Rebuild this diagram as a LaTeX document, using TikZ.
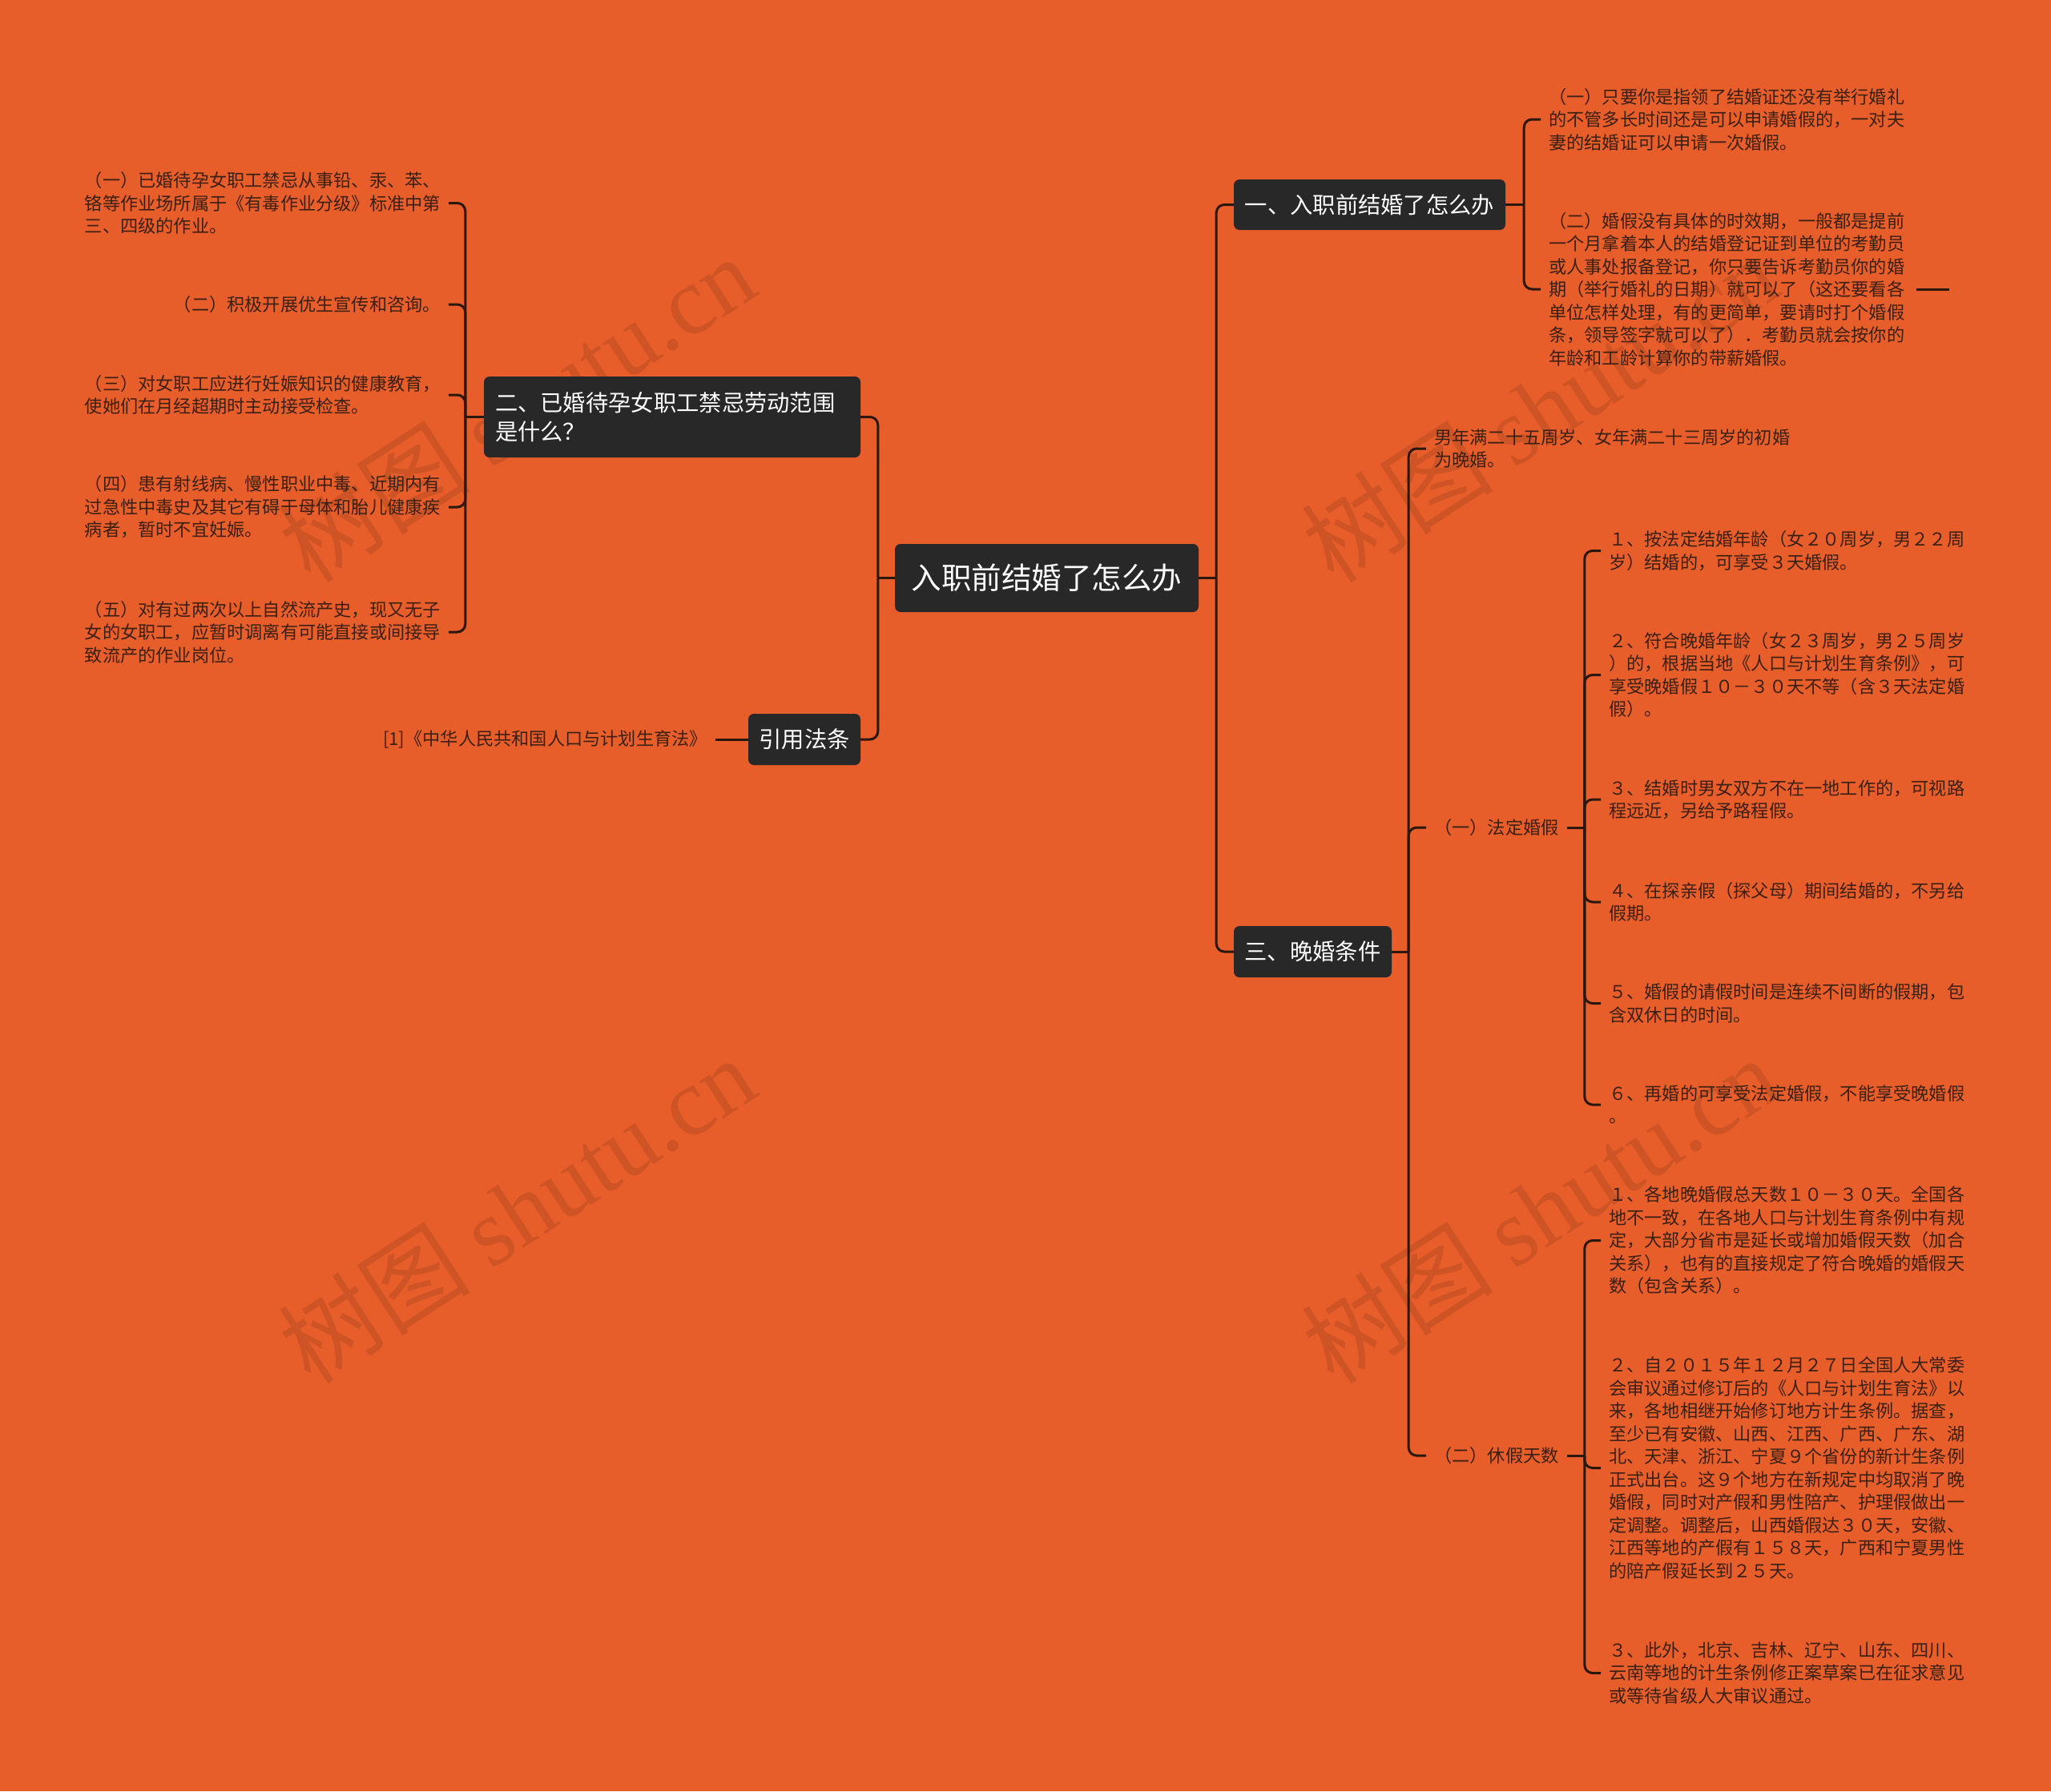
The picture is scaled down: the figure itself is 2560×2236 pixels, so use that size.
\documentclass[tikz,border=0pt]{standalone}
\usepackage{fontspec}
\setmainfont{Noto Sans CJK SC}
\newfontfamily\cjk{Noto Sans CJK SC}
\newfontfamily\wmserif{Liberation Serif}
\definecolor{bgc}{HTML}{E85E2A}
\definecolor{boxc}{HTML}{282828}
\definecolor{leafc}{HTML}{3A2014}
\definecolor{linec}{HTML}{2A170D}
\tikzset{
  box/.style={fill=boxc, rounded corners=7pt, text=white, inner sep=0pt,
    font=\fontsize{28.3}{36}\selectfont},
  leaf/.style={text=leafc, inner xsep=10pt, inner ysep=0pt, align=left,
    font=\fontsize{22.2}{28.5}\selectfont},
  conn/.style={draw=linec, line width=3pt},
  elbow/.style={conn, rounded corners=10pt},
  wm/.style={text=black, text opacity=0.11, inner sep=0pt, rotate=33,
    font=\fontsize{120}{120}\selectfont}
}
\begin{document}
\begin{tikzpicture}[x=1pt, y=-1pt]
\useasboundingbox (0,0) rectangle (2560,2236);
\fill[bgc] (0,0) rectangle (2560,2236);

% watermarks
\node[wm] (wm1) at (645,510) {{\cjk 树图} {\wmserif shutu.cn}};
\node[wm] (wm2) at (645,1510) {{\cjk 树图} {\wmserif shutu.cn}};
\node[wm] (wm3) at (1922,510) {{\cjk 树图} {\wmserif shutu.cn}};
\node[wm] (wm4) at (1922,1510) {{\cjk 树图} {\wmserif shutu.cn}};

% main boxes
\node[box, minimum width=379pt, minimum height=85pt, font=\fontsize{37.5}{44}\selectfont] (root) at (1306.5,721.5) {入职前结婚了怎么办};
\node[box, minimum width=339pt, minimum height=63pt] (n1) at (1709.5,255.5) {一、入职前结婚了怎么办};
\node[box, text width=442pt, inner xsep=14pt, minimum height=101pt, align=left] (n2) at (839,520.5) {二、已婚待孕女职工禁忌劳动范围\\是什么？};
\node[box, minimum width=140pt, minimum height=64pt] (n4) at (1004,923) {引用法条};
\node[box, minimum width=197pt, minimum height=64pt] (n3) at (1638.5,1188) {三、晚婚条件};

% junctions
\coordinate (jR) at ([xshift=22pt]root.east);
\coordinate (jL) at ([xshift=-21pt]root.west);
\coordinate (j1) at ([xshift=23pt]n1.east);
\coordinate (j2) at ([xshift=-23pt]n2.west);
\coordinate (j3) at ([xshift=21pt]n3.east);

% leaves of n1
\node[leaf, anchor=west] (l1a) at (1923,149) {（一）只要你是指领了结婚证还没有举行婚礼\\的不管多长时间还是可以申请婚假的，一对夫\\妻的结婚证可以申请一次婚假。};
\node[leaf, anchor=west] (l1b) at (1923,361) {（二）婚假没有具体的时效期，一般都是提前\\一个月拿着本人的结婚登记证到单位的考勤员\\或人事处报备登记，你只要告诉考勤员你的婚\\期（举行婚礼的日期）就可以了（这还要看各\\单位怎样处理，有的更简单，要请时打个婚假\\条，领导签字就可以了）．考勤员就会按你的\\年龄和工龄计算你的带薪婚假。};
\coordinate (stray) at ([xshift=46pt]l1b.east);

% leaves of n2
\node[leaf, anchor=east] (a1) at (560,253.5) {（一）已婚待孕女职工禁忌从事铅、汞、苯、\\铬等作业场所属于《有毒作业分级》标准中第\\三、四级的作业。};
\node[leaf, anchor=east] (a2) at (560,380) {（二）积极开展优生宣传和咨询。};
\node[leaf, anchor=east] (a3) at (560,493) {（三）对女职工应进行妊娠知识的健康教育，\\使她们在月经超期时主动接受检查。};
\node[leaf, anchor=east] (a4) at (560,633) {（四）患有射线病、慢性职业中毒、近期内有\\过急性中毒史及其它有碍于母体和胎儿健康疾\\病者，暂时不宜妊娠。};
\node[leaf, anchor=east] (a5) at (560,789) {（五）对有过两次以上自然流产史，现又无子\\女的女职工，应暂时调离有可能直接或间接导\\致流产的作业岗位。};

% leaf of n4
\node[leaf, anchor=east] (cite) at (893,923) {[1]《中华人民共和国人口与计划生育法》};

% leaves of n3
\node[leaf, anchor=west] (w0) at (1780,560) {男年满二十五周岁、女年满二十三周岁的初婚\\为晚婚。};
\node[leaf, anchor=west] (fd) at (1780,1033) {（一）法定婚假};
\node[leaf, anchor=west] (xj) at (1780,1817) {（二）休假天数};
\coordinate (j4) at ([xshift=22pt]fd.east);
\coordinate (j5) at ([xshift=22pt]xj.east);

% leaves of fd
\node[leaf, anchor=west] (f1) at (1998,687.5) {１、按法定结婚年龄（女２０周岁，男２２周\\岁）结婚的，可享受３天婚假。};
\node[leaf, anchor=west] (f2) at (1998,842.5) {２、符合晚婚年龄（女２３周岁，男２５周岁\\）的，根据当地《人口与计划生育条例》，可\\享受晚婚假１０－３０天不等（含３天法定婚\\假）。};
\node[leaf, anchor=west] (f3) at (1998,998) {３、结婚时男女双方不在一地工作的，可视路\\程远近，另给予路程假。};
\node[leaf, anchor=west] (f4) at (1998,1126) {４、在探亲假（探父母）期间结婚的，不另给\\假期。};
\node[leaf, anchor=west] (f5) at (1998,1252.5) {５、婚假的请假时间是连续不间断的假期，包\\含双休日的时间。};
\node[leaf, anchor=west] (f6) at (1998,1379) {６、再婚的可享受法定婚假，不能享受晚婚假\\。};

% leaves of xj
\node[leaf, anchor=west] (x1) at (1998,1548.5) {１、各地晚婚假总天数１０－３０天。全国各\\地不一致，在各地人口与计划生育条例中有规\\定，大部分省市是延长或增加婚假天数（加合\\关系），也有的直接规定了符合晚婚的婚假天\\数（包含关系）。};
\node[leaf, anchor=west] (x2) at (1998,1832.5) {２、自２０１５年１２月２７日全国人大常委\\会审议通过修订后的《人口与计划生育法》以\\来，各地相继开始修订地方计生条例。据查，\\至少已有安徽、山西、江西、广西、广东、湖\\北、天津、浙江、宁夏９个省份的新计生条例\\正式出台。这９个地方在新规定中均取消了晚\\婚假，同时对产假和男性陪产、护理假做出一\\定调整。调整后，山西婚假达３０天，安徽、\\江西等地的产假有１５８天，广西和宁夏男性\\的陪产假延长到２５天。};
\node[leaf, anchor=west] (x3) at (1998,2088.5) {３、此外，北京、吉林、辽宁、山东、四川、\\云南等地的计生条例修正案草案已在征求意见\\或等待省级人大审议通过。};

% connectors
\draw[conn] (root.east) -- (jR);
\draw[elbow] (jR) |- (n1.west);
\draw[elbow] (jR) |- (n3.west);
\draw[conn] (root.west) -- (jL);
\draw[elbow] (jL) |- (n2.east);
\draw[elbow] (jL) |- (n4.east);

\draw[conn] (n1.east) -- (j1);
\draw[elbow] (j1) |- (l1a.west);
\draw[elbow] (j1) |- (l1b.west);
\draw[conn] ([xshift=5pt]l1b.east) -- (stray);

\draw[conn] (n2.west) -- (j2);
\foreach \c in {a1,a2,a3,a4,a5} { \draw[elbow] (j2) |- (\c.east); }

\draw[conn] (n4.west) -- (cite.east);

\draw[conn] (n3.east) -- (j3);
\foreach \c in {w0,fd,xj} { \draw[elbow] (j3) |- (\c.west); }

\draw[conn] (fd.east) -- (j4);
\foreach \c in {f1,f2,f3,f4,f5,f6} { \draw[elbow] (j4) |- (\c.west); }

\draw[conn] (xj.east) -- (j5);
\foreach \c in {x1,x2,x3} { \draw[elbow] (j5) |- (\c.west); }
\end{tikzpicture}
\end{document}
